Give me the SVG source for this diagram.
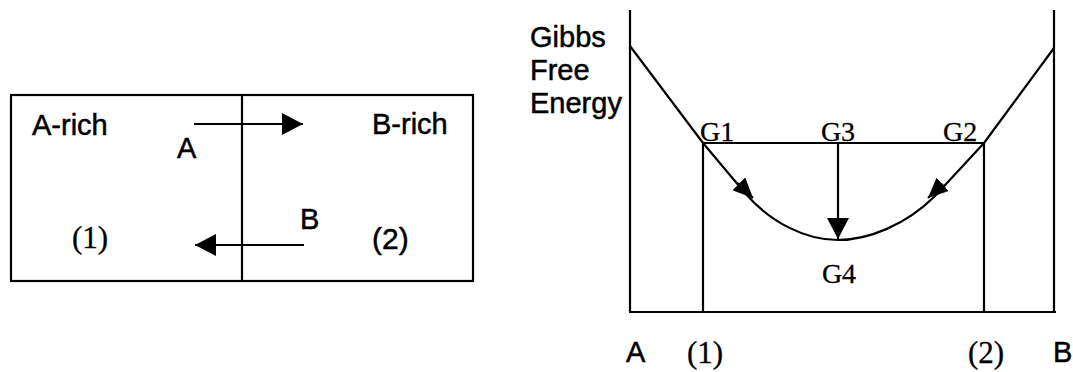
<svg xmlns="http://www.w3.org/2000/svg" width="1073" height="372" viewBox="0 0 1073 372">
<style>
.ln{fill:none;stroke:#000;stroke-width:2.2}
.sans{font-family:"Liberation Sans",Arial,sans-serif;font-size:29px;fill:#000;stroke:#000;stroke-width:0.5}
.serif{font-family:"Liberation Serif","Times New Roman",serif;font-size:29px;fill:#000;stroke:#000;stroke-width:0.3}
</style>
<defs>
<marker id="ah" viewBox="0 0 21 22" refX="21" refY="11" markerWidth="21" markerHeight="22" markerUnits="userSpaceOnUse" orient="auto">
<path d="M0,0 L21,11 L0,22 z" fill="#000"/>
</marker>
<marker id="ahs" viewBox="0 0 20 18" refX="20" refY="9" markerWidth="20" markerHeight="18" markerUnits="userSpaceOnUse" orient="auto">
<path d="M0,0 L20,9 L0,18 z" fill="#000"/>
</marker>
</defs>
<g id="left-box">
<rect x="11" y="95" width="462" height="186" class="ln"/>
<line x1="242" y1="95" x2="242" y2="281" class="ln"/>
<text class="sans" x="32" y="135">A-rich</text>
<text class="sans" x="372" y="134">B-rich</text>
<text class="sans" x="177" y="158">A</text>
<text class="sans" x="300" y="229">B</text>
<text class="serif" x="72" y="248" style="font-size:31px">(1)</text>
<text class="sans" x="372" y="249" style="font-size:30px">(2)</text>
</g>
<g id="chart">
<line x1="630" y1="10" x2="630" y2="312" class="ln"/>
<line x1="1054" y1="10" x2="1054" y2="312" class="ln"/>
<line x1="629" y1="312" x2="1056" y2="312" class="ln"/>
<line x1="703" y1="143" x2="703" y2="312" class="ln"/>
<line x1="984" y1="143" x2="984" y2="312" class="ln"/>
<line x1="703" y1="143" x2="984" y2="143" class="ln"/>
<path class="ln" d="M630,46 L703,143 L745,193 C770,222 805,240 838,240 C868,240 906,225 935,196 L984,143 L1054,48"/>
<text class="sans" x="530" y="47">Gibbs</text>
<text class="sans" x="530" y="80">Free</text>
<text class="sans" x="530" y="113">Energy</text>
<text class="serif" x="700" y="141" style="font-size:28px">G1</text>
<text class="serif" x="838" y="141" text-anchor="middle" style="font-size:28px">G3</text>
<text class="serif" x="943" y="141" style="font-size:28px">G2</text>
<text class="serif" x="839" y="283" text-anchor="middle" style="font-size:28px">G4</text>
<text class="sans" x="626" y="362">A</text>
<text class="serif" x="687" y="363" style="font-size:31px">(1)</text>
<text class="serif" x="968" y="363" style="font-size:31px">(2)</text>
<text class="sans" x="1053" y="362">B</text>
</g>
<g id="connectors">
<line x1="194" y1="124" x2="303" y2="124" class="ln" marker-end="url(#ah)"/>
<line x1="304" y1="245" x2="195" y2="245" class="ln" marker-end="url(#ah)"/>
<line x1="838" y1="143" x2="838" y2="239" class="ln" marker-end="url(#ah)"/>
<line x1="738" y1="183" x2="753" y2="198" class="ln" marker-end="url(#ahs)"/>
<line x1="943" y1="184" x2="928" y2="198" class="ln" marker-end="url(#ahs)"/>
</g>
</svg>
